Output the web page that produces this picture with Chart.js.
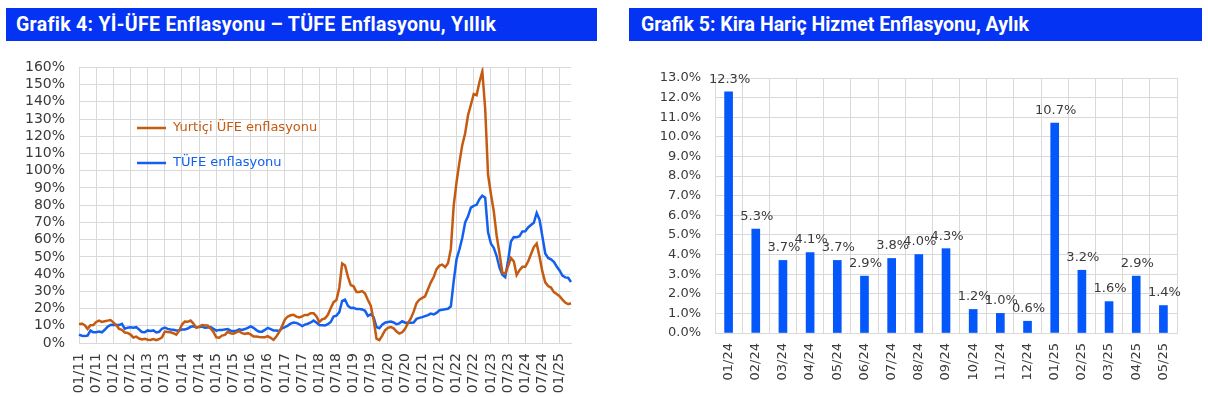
<!DOCTYPE html>
<html>
<head>
<meta charset="utf-8">
<script src="https://cdn.jsdelivr.net/npm/chart.js@4.4.1/dist/chart.umd.min.js"></script>
<style>
  body { margin: 0; width: 1208px; height: 397px; background: #fff; position: relative; overflow: hidden; }
  .title { position: absolute; top: 8px; height: 33px; background: #0533f4; color: #fff;
           font-family: Roboto, sans-serif; font-weight: bold; font-size: 19.5px; line-height: 33px;
           padding-left: 10px; box-sizing: border-box; white-space: nowrap; }
  #t4 { left: 6px; width: 591px; letter-spacing: 0.3px; }
  #t5 { left: 629px; width: 573px; padding-left: 12px; }
  .box { position: absolute; top: 45px; height: 352px; }
  #box4 { left: 0; width: 600px; }
  #box5 { left: 605px; width: 603px; }
</style>
</head>
<body>
<div class="title" id="t4">Grafik 4: Yİ-ÜFE Enflasyonu – TÜFE Enflasyonu, Yıllık</div>
<div class="title" id="t5">Grafik 5: Kira Hariç Hizmet Enflasyonu, Aylık</div>
<div class="box" id="box4"><canvas id="lineChart"></canvas></div>
<div class="box" id="box5"><canvas id="barChart"></canvas></div>

<script>
// Grafik 4 - yearly, monthly points 01/11 .. 05/25
var firstYear = 2011, lastYear = 2025, lastMonth = 5;

var ufeValues = [
    10.8, 11.3, 10.3, 8.2, 10.3, 10.4, 12.2, 13.0, 12.2, 12.6, 13.0, 13.3,
    12.0, 10.4, 8.2, 7.7, 6.1, 5.9, 4.9, 3.2, 3.7, 2.6, 2.1, 2.5,
    1.9, 1.8, 2.3, 1.7, 2.2, 3.3, 6.6, 6.4, 6.2, 5.7, 4.8, 7.0,
    10.7, 12.4, 12.3, 13.0, 11.3, 8.9, 9.5, 10.4, 10.1, 10.1, 8.4, 6.4,
    3.3, 3.1, 4.3, 4.7, 6.5, 5.7, 5.4, 6.2, 6.9, 5.7, 5.3, 5.7,
    5.0, 3.8, 3.8, 3.5, 3.3, 3.4, 4.0, 3.0, 1.8, 3.8, 6.4, 9.9,
    13.7, 15.4, 16.1, 16.4, 15.3, 14.9, 15.5, 16.3, 16.3, 17.3, 17.3, 15.5,
    12.1, 13.7, 14.3, 16.4, 20.2, 23.7, 25.0, 32.1, 46.2, 45.0, 38.5, 33.6,
    32.9, 29.6, 29.6, 30.1, 28.7, 25.0, 21.7, 13.5, 2.5, 1.7, 4.3, 7.4,
    8.8, 9.3, 8.5, 6.7, 5.5, 6.2, 8.3, 11.5, 14.3, 18.2, 23.1, 25.2,
    26.2, 27.1, 31.2, 35.2, 38.3, 42.9, 44.9, 45.5, 44.0, 46.3, 54.6, 79.9,
    93.5, 105.0, 115.0, 121.8, 132.2, 138.3, 144.6, 143.8, 151.5, 157.7, 136.0, 97.7,
    86.5, 76.6, 62.4, 52.1, 40.8, 40.4, 44.5, 49.4, 47.4, 39.4, 42.3, 44.2,
    44.2, 47.3, 51.5, 55.7, 57.7, 50.1, 41.4, 35.2, 33.1, 32.2, 29.5, 28.5,
    27.2, 25.2, 23.5, 22.5, 23.1
];

var tufeValues = [
    4.9, 4.2, 4.0, 4.3, 7.2, 6.2, 6.3, 6.7, 6.2, 7.7, 9.5, 10.5,
    10.6, 10.4, 10.4, 11.1, 8.3, 8.9, 9.1, 8.9, 9.2, 7.8, 6.4, 6.2,
    7.3, 7.0, 7.3, 6.1, 6.5, 8.3, 8.9, 8.2, 7.9, 7.7, 7.3, 7.4,
    7.8, 7.9, 8.4, 9.4, 9.7, 9.2, 9.3, 9.5, 8.9, 9.0, 9.2, 8.2,
    7.2, 7.6, 7.6, 7.9, 8.1, 7.2, 6.8, 7.1, 8.0, 7.6, 8.1, 8.8,
    9.6, 8.8, 7.5, 6.6, 6.6, 7.6, 8.8, 8.1, 7.3, 7.2, 7.0, 8.5,
    9.2, 10.1, 11.3, 11.9, 11.7, 10.9, 9.8, 10.7, 11.2, 11.9, 13.0, 11.9,
    10.4, 10.3, 10.2, 10.9, 12.2, 15.4, 15.9, 17.9, 24.5, 25.2, 21.6, 20.3,
    20.4, 19.7, 19.7, 19.5, 18.7, 15.7, 16.7, 15.0, 9.3, 8.6, 10.6, 11.8,
    12.2, 12.4, 11.9, 10.9, 11.4, 12.6, 11.8, 11.8, 11.8, 11.9, 14.0, 14.6,
    15.0, 15.6, 16.2, 17.1, 16.6, 17.5, 19.0, 19.3, 19.6, 19.9, 21.3, 36.1,
    48.7, 54.4, 61.1, 70.0, 73.5, 78.6, 79.6, 80.2, 83.5, 85.5, 84.4, 64.3,
    57.7, 55.2, 50.5, 43.7, 39.6, 38.2, 47.8, 58.9, 61.5, 61.4, 62.0, 64.8,
    64.9, 67.1, 68.5, 69.8, 75.5, 71.6, 61.8, 52.0, 49.4, 48.6, 47.1, 44.4,
    42.1, 39.1, 38.1, 37.9, 35.4
];

// Grafik 5 - monthly
var barMonths = ["01/24", "02/24", "03/24", "04/24", "05/24", "06/24", "07/24", "08/24", "09/24",
                 "10/24", "11/24", "12/24", "01/25", "02/25", "03/25", "04/25", "05/25"];
var serviceValues = [12.3, 5.3, 3.7, 4.1, 3.7, 2.9, 3.8, 4.0, 4.3, 1.2, 1.0, 0.6, 10.7, 3.2, 1.6, 2.9, 1.4];

var months = [];
for (var y = firstYear; y <= lastYear; y++) {
    for (var m = 1; m <= 12; m++) {
        if (y === lastYear && m > lastMonth) break;
        months.push((m < 10 ? "0" + m : "" + m) + "/" + String(y).slice(2));
    }
}

var orange = "#c55a11";
var blue = "#1460ee";
var gridColor = "#d9d9d9";
var tickColor = "#3a3a3a";
var lineFont = { family: "DejaVu Sans", size: 14 };
var barFont = { family: "DejaVu Sans", size: 13 };

// legend drawn inside the plot like the original
var insideLegend = {
    id: "insideLegend",
    afterDraw: function (chart) {
        var ctx = chart.ctx;
        var items = [
            { text: "Yurtiçi ÜFE enflasyonu", color: orange, y: 83 },
            { text: "TÜFE enflasyonu", color: blue, y: 118 }
        ];
        ctx.save();
        ctx.font = "13px 'DejaVu Sans'";
        ctx.textBaseline = "middle";
        items.forEach(function (it) {
            ctx.strokeStyle = it.color;
            ctx.lineWidth = 2.5;
            ctx.beginPath();
            ctx.moveTo(137, it.y);
            ctx.lineTo(166, it.y);
            ctx.stroke();
            ctx.fillStyle = it.color;
            ctx.fillText(it.text, 173, it.y);
        });
        ctx.restore();
    }
};

new Chart(document.getElementById("lineChart"), {
    type: "line",
    data: {
        labels: months,
        datasets: [
            { label: "Yurtiçi ÜFE enflasyonu", data: ufeValues, borderColor: orange, borderWidth: 2.5, pointRadius: 0, tension: 0 },
            { label: "TÜFE enflasyonu", data: tufeValues, borderColor: blue, borderWidth: 2.5, pointRadius: 0, tension: 0 }
        ]
    },
    options: {
        responsive: true,
        maintainAspectRatio: false,
        animation: false,
        layout: { padding: { top: 12, right: 29, left: 0, bottom: 0 } },
        plugins: { legend: { display: false }, tooltip: { enabled: false } },
        scales: {
            x: {
                afterFit: function (s) { s.height = 54; },
                grid: {
                    drawTicks: false,
                    color: function (c) { return c.index % 6 === 0 ? gridColor : "rgba(0,0,0,0)"; }
                },
                border: { color: gridColor },
                ticks: {
                    autoSkip: false, maxRotation: 90, minRotation: 90, padding: 10,
                    color: tickColor, font: lineFont,
                    callback: function (v, i) { return i % 6 === 0 ? months[i] : ""; }
                }
            },
            y: {
                min: 0, max: 160,
                afterFit: function (s) { s.width = 79; },
                grid: { drawTicks: false, color: gridColor },
                border: { color: gridColor },
                ticks: {
                    stepSize: 10, autoSkip: false, padding: 14, color: tickColor, font: lineFont,
                    callback: function (v) { return v + "%"; }
                }
            }
        }
    },
    plugins: [insideLegend]
});

// value labels above the bars
var barLabels = {
    id: "barLabels",
    afterDatasetsDraw: function (chart) {
        var ctx = chart.ctx;
        var meta = chart.getDatasetMeta(0);
        ctx.save();
        ctx.font = "13px 'DejaVu Sans'";
        ctx.fillStyle = tickColor;
        ctx.textAlign = "center";
        ctx.textBaseline = "bottom";
        meta.data.forEach(function (bar, i) {
            ctx.fillText(serviceValues[i].toFixed(1) + "%", bar.x + 1, bar.y - 6);
        });
        ctx.restore();
    }
};

new Chart(document.getElementById("barChart"), {
    type: "bar",
    data: {
        labels: barMonths,
        datasets: [{ label: "Kira Hariç Hizmet", data: serviceValues, backgroundColor: "#0457fb", barThickness: 8 }]
    },
    options: {
        responsive: true,
        maintainAspectRatio: false,
        animation: false,
        layout: { padding: { top: 33, right: 31, left: 40, bottom: 0 } },
        plugins: { legend: { display: false }, tooltip: { enabled: false } },
        scales: {
            x: {
                afterFit: function (s) { s.height = 64; },
                grid: { drawTicks: false, color: gridColor },
                border: { color: gridColor },
                ticks: { autoSkip: false, maxRotation: 90, minRotation: 90, padding: 10, color: tickColor, font: barFont }
            },
            y: {
                min: 0, max: 13,
                afterFit: function (s) { s.width = 70; },
                grid: { drawTicks: false, color: gridColor },
                border: { color: gridColor },
                ticks: {
                    stepSize: 1, autoSkip: false, padding: 14, color: tickColor, font: barFont,
                    callback: function (v) { return v.toFixed(1) + "%"; }
                }
            }
        }
    },
    plugins: [barLabels]
});
</script>
</body>
</html>
